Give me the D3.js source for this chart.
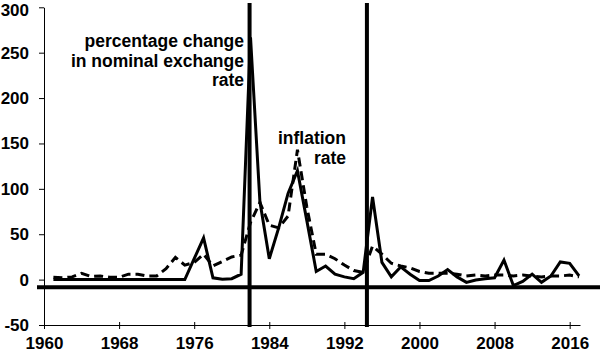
<!DOCTYPE html>
<html>
<head>
<meta charset="utf-8">
<script src="https://cdn.jsdelivr.net/npm/d3@7"></script>
<style>
  html, body { margin: 0; padding: 0; background: #fff; }
  svg { display: block; }
  text { font-family: "Liberation Sans", Arial, sans-serif; font-weight: bold; fill: #000; }
</style>
</head>
<body>
<svg id="chart" width="600" height="352"></svg>
<script>
const years = d3.range(1961, 2018);
const exchangeChange = [
  0, 0, 0, 0, 0, 0, 0, 0, 0, 0,
  0, 0, 0, 0, 0, 23, 46, 2, 0.5, 1,
  6, 267, 86, 23, 57, 95, 120, 65, 9, 15,
  6, 3, 1, 8, 91, 19, 3, 14, 6, -1,
  -1, 4, 11, 3, -3, -0.5, 1, 2, 21.5, -6.5,
  -2, 6, -3, 4, 19.5, 18, 4
];
const inflationRate = [
  2.5, 2, 3, 7, 3.5, 4, 2.5, 2.5, 6, 6,
  4, 4, 12, 24.5, 16, 19, 28, 15, 20, 25,
  27, 63, 85, 60, 57, 70, 143, 80, 28, 28,
  23, 16, 10, 8, 37, 28, 18, 15, 13, 9,
  7, 7, 7, 6, 4, 5, 4, 5, 5, 4,
  5, 4, 3, 4, 4, 5, 3
];
const yTicks = [-50, 0, 50, 100, 150, 200, 250, 300];
const xTicks = [1960, 1968, 1976, 1984, 1992, 2000, 2008, 2016];
const breakYears = [1981.9, 1994.4];
const referenceLevel = -8.5;
const labelExchange = ["percentage change", "in nominal exchange", "rate"];
const labelInflation = ["inflation", "rate"];

const svg = d3.select("#chart");
const x = d3.scaleLinear().domain([1960, 2017.1]).range([44, 580]);
const y = d3.scaleLinear().domain([-50, 300]).range([325, 7.3]);

// y axis
const yAxis = d3.axisLeft(y).tickValues(yTicks).tickFormat(d => String(d))
  .tickSize(5).tickPadding(10).tickSizeOuter(0);
const gy = svg.append("g").attr("transform", "translate(44,0)").call(yAxis);
gy.selectAll("text").style("font-size", "17px").attr("fill", "#000");
gy.selectAll("line, path").attr("stroke", "#000").attr("stroke-width", 1);
// keep the top label inside the picture
gy.selectAll(".tick").each(function() {
  const t = d3.select(this).select("text");
  const node = this;
  const bb = t.node().getBBox();
  const m = node.transform.baseVal.consolidate();
  const ty = m ? m.matrix.f : 0;
  const top = ty + bb.y;
  if (top < 0.5) t.attr("y", (+t.attr("y") || 0) + (0.5 - top));
});

// x axis
const xAxis = d3.axisBottom(x).tickValues(xTicks).tickFormat(d => String(d))
  .tickSize(4).tickPadding(8).tickSizeOuter(0);
const gx = svg.append("g").attr("transform", "translate(0,325)").call(xAxis);
gx.selectAll("text").style("font-size", "17px").attr("fill", "#000");
gx.selectAll("line, path").attr("stroke", "#000").attr("stroke-width", 1);
gx.selectAll(".tick line").attr("y1", -3);

// reference horizontal line
svg.append("line")
  .attr("x1", 37).attr("x2", 600)
  .attr("y1", y(referenceLevel)).attr("y2", y(referenceLevel))
  .attr("stroke", "#000").attr("stroke-width", 4);

// vertical break lines
svg.selectAll(".brk").data(breakYears).enter().append("line")
  .attr("class", "brk")
  .attr("x1", d => x(d)).attr("x2", d => x(d))
  .attr("y1", 3).attr("y2", 327)
  .attr("stroke", "#000").attr("stroke-width", 4);

const lineGen = vals => d3.line().x((d, i) => x(years[i])).y(d => y(d))(vals);

svg.append("path")
  .attr("d", lineGen(inflationRate))
  .attr("fill", "none").attr("stroke", "#000").attr("stroke-width", 3)
  .attr("stroke-dasharray", "9,5").attr("stroke-linejoin", "miter");

svg.append("path")
  .attr("d", lineGen(exchangeChange))
  .attr("fill", "none").attr("stroke", "#000").attr("stroke-width", 3)
  .attr("stroke-linejoin", "miter");

// annotations
const t1 = svg.append("text").attr("text-anchor", "end").style("font-size", "17.5px");
labelExchange.forEach((s, i) => t1.append("tspan").attr("x", 244).attr("y", 47 + i * 19.5).text(s));
const t2 = svg.append("text").attr("text-anchor", "end").style("font-size", "17.5px");
labelInflation.forEach((s, i) => t2.append("tspan").attr("x", 346).attr("y", 144 + i * 20).text(s));
</script>
</body>
</html>
